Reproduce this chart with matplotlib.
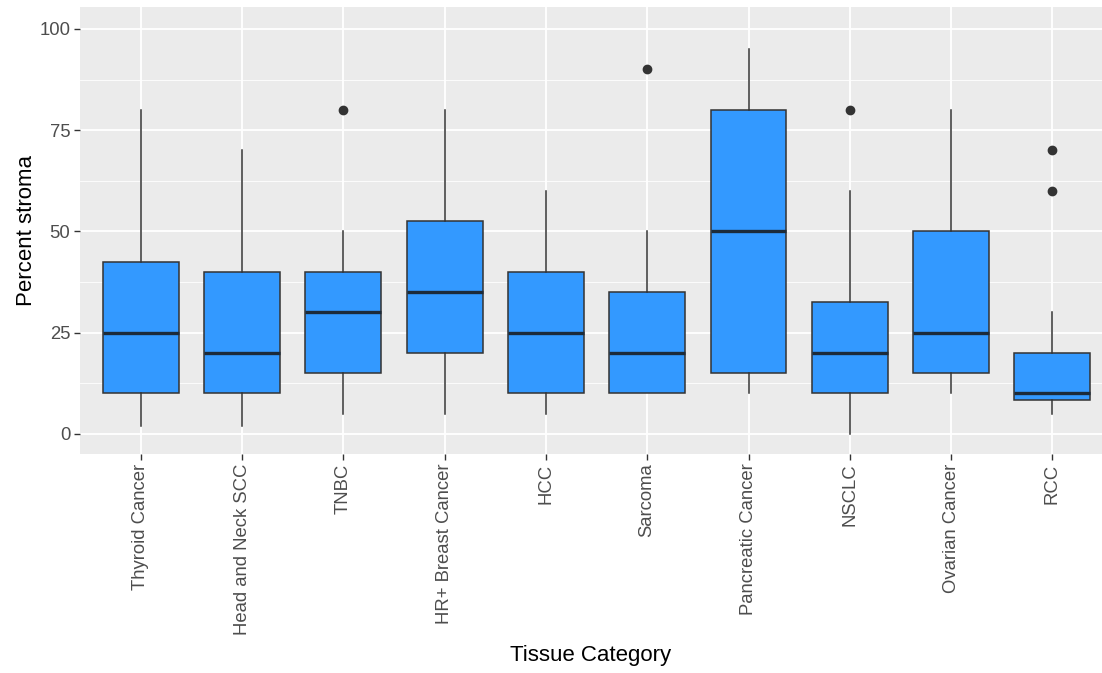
import matplotlib
matplotlib.use("Agg")
import matplotlib.pyplot as plt
from matplotlib.ticker import MultipleLocator

categories = ["Thyroid Cancer", "Head and Neck SCC", "TNBC", "HR+ Breast Cancer", "HCC",
              "Sarcoma", "Pancreatic Cancer", "NSCLC", "Ovarian Cancer", "RCC"]
whisker_low = [2, 2, 5, 5, 5, 10, 10, 0, 10, 5]
q1 = [10, 10, 15, 20, 10, 10, 15, 10, 15, 8.5]
median = [25, 20, 30, 35, 25, 20, 50, 20, 25, 10]
q3 = [42.5, 40, 40, 52.5, 40, 35, 80, 32.5, 50, 20]
whisker_high = [80, 70, 50, 80, 60, 50, 95, 60, 80, 30]
outliers = [[], [], [80], [], [], [90], [], [80], [], [70, 60]]

plt.rcParams["font.family"] = ["Liberation Sans", "DejaVu Sans"]

fig = plt.figure(figsize=(11.02, 6.73), dpi=100)
ax = fig.add_axes([0.0726, 0.3254, 0.9274, 0.6642])
ax.set_facecolor("#EBEBEB")

stats = []
for i, name in enumerate(categories):
    stats.append(dict(label=name, whislo=whisker_low[i], q1=q1[i], med=median[i],
                      q3=q3[i], whishi=whisker_high[i], fliers=outliers[i]))

positions = list(range(1, len(categories) + 1))
ax.bxp(stats, positions=positions, widths=0.75, patch_artist=True, showcaps=False,
       boxprops=dict(facecolor="#3399FF", edgecolor="#333333", linewidth=1.1),
       medianprops=dict(color="#1C2B3A", linewidth=2.4),
       whiskerprops=dict(color="#333333", linewidth=1.1),
       flierprops=dict(marker="o", markerfacecolor="#333333", markeredgecolor="#333333",
                       markersize=6),
       zorder=3)

ax.set_xlim(0.4, 10.49)
ax.set_ylim(-4.94, 105.4)
ax.yaxis.set_major_locator(MultipleLocator(25))
ax.yaxis.set_minor_locator(MultipleLocator(12.5))
ax.grid(which="major", color="white", linewidth=1.3, zorder=0)
ax.grid(which="minor", axis="y", color="white", linewidth=0.6, zorder=0)
ax.set_axisbelow(True)
for s in ax.spines.values():
    s.set_visible(False)

ax.set_xticks(positions)
ax.set_xticklabels(categories, rotation=90, ha="center", va="top")
ax.tick_params(axis="both", which="major", length=4, width=1.0, color="#333333",
               labelcolor="#4D4D4D", labelsize=13.3, pad=3)
ax.tick_params(axis="y", which="minor", length=0)

ax.set_xlabel("Tissue Category", fontsize=16, color="black", labelpad=7)
ax.set_ylabel("Percent stroma", fontsize=16, color="black", labelpad=2)

fig.savefig("out.png", dpi=100, facecolor="white")
